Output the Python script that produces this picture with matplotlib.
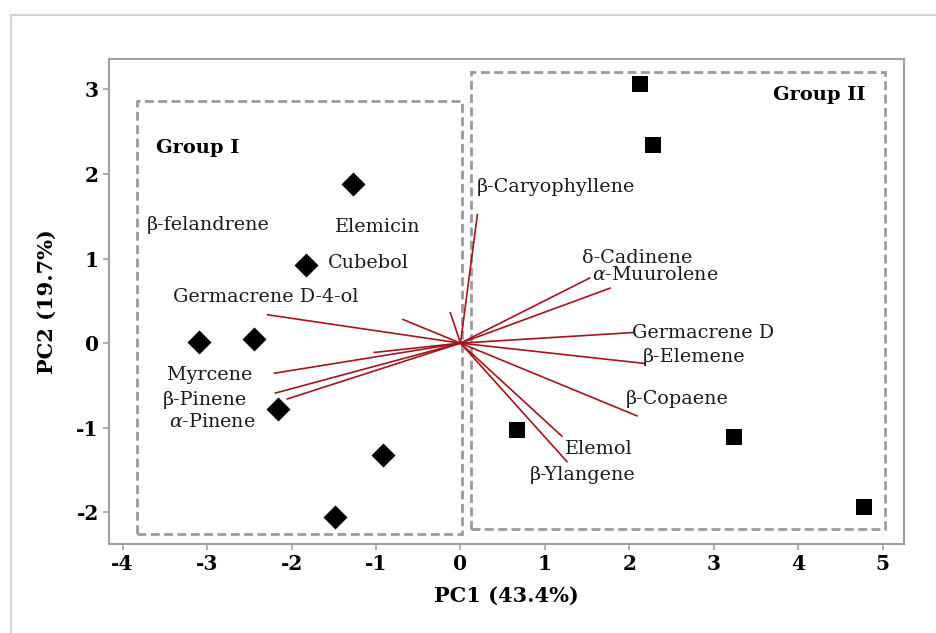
import matplotlib.pyplot as plt
from matplotlib.lines import Line2D
from matplotlib.patches import Rectangle

plt.rcParams["font.family"] = ["DejaVu Serif"]
plt.rcParams["mathtext.fontset"] = "dejavuserif"
plt.rcParams["axes.unicode_minus"] = False

# PCA scores
group1_pc1 = [-1.27, -1.83, -3.09, -2.44, -2.16, -0.92, -1.49]
group1_pc2 = [1.88, 0.92, 0.01, 0.05, -0.78, -1.32, -2.05]
group2_pc1 = [2.12, 2.28, 0.67, 3.24, 4.78]
group2_pc2 = [3.06, 2.34, -1.03, -1.11, -1.94]

# loading vectors (scaled)
compounds = ["β-felandrene", "Elemicin", "Cubebol", "Germacrene D-4-ol",
             "Myrcene", "β-Pinene", r"$\alpha$-Pinene", "β-Caryophyllene",
             "δ-Cadinene", r"$\alpha$-Muurolene", "Germacrene D", "β-Elemene",
             "β-Copaene", "Elemol", "β-Ylangene"]
load_pc1 = [-1.02, -0.68, -0.12, -2.28, -2.20, -2.19, -2.05, 0.20,
            1.53, 1.77, 2.04, 2.18, 2.09, 1.20, 1.26]
load_pc2 = [-0.11, 0.28, 0.36, 0.335, -0.355, -0.59, -0.66, 1.52,
            0.77, 0.65, 0.125, -0.24, -0.86, -1.10, -1.40]

# where each compound name is written
label_pos = [(-2.99, 1.40), (-0.975, 1.37), (-1.09, 0.95), (-2.30, 0.545),
             (-2.97, -0.375), (-3.02, -0.67), (-2.94, -0.93), (1.13, 1.85),
             (2.09, 1.01), (2.30, 0.80), (2.87, 0.12), (2.76, -0.16),
             (2.57, -0.66), (1.64, -1.25), (1.45, -1.56)]

fig = plt.figure(figsize=(9.36, 6.33), dpi=100)
ax = fig.add_axes([0.1165, 0.1406, 0.8493, 0.7662])

for x, y in zip(load_pc1, load_pc2):
    ax.plot([0, x], [0, y], color="#a3141c", lw=1.2, zorder=2)

ax.scatter(group1_pc1, group1_pc2, marker="D", s=150, color="black",
           zorder=3, linewidths=0)
ax.scatter(group2_pc1, group2_pc2, marker="s", s=130, color="black",
           zorder=3, linewidths=0)

for name, (lx, ly) in zip(compounds, label_pos):
    ax.text(lx, ly, name, ha="center", va="center", fontsize=13.8,
            color="#1a1a1a", zorder=4)

# group outlines
box_style = dict(fill=False, ls=(0, (3.2, 1.6)), lw=2.0, ec="#9b9b9b", zorder=1)
ax.add_patch(Rectangle((-3.83, -2.26), 3.85, 5.12, **box_style))
ax.add_patch(Rectangle((0.12, -2.20), 4.91, 5.41, **box_style))
ax.text(-3.11, 2.31, "Group I", ha="center", va="center", fontsize=14,
        fontweight="bold")
ax.text(4.25, 2.93, "Group II", ha="center", va="center", fontsize=14,
        fontweight="bold")

ax.set_xlim(-4.16, 5.25)
ax.set_ylim(-2.375, 3.36)
ax.set_xticks(range(-4, 6))
ax.set_yticks(range(-2, 4))
for s in ax.spines.values():
    s.set_color("#a0a0a0")
    s.set_linewidth(1.5)
ax.tick_params(colors="#a0a0a0", length=4, width=1.2, labelcolor="black",
               labelsize=14.5)
for t in ax.get_xticklabels() + ax.get_yticklabels():
    t.set_fontweight("bold")

ax.set_xlabel("PC1 (43.4%)", fontsize=15, fontweight="bold", labelpad=8)
ax.set_ylabel("PC2 (19.7%)", fontsize=15, fontweight="bold", labelpad=14)

# thin page frame
fig.add_artist(Line2D([11 / 936, 11 / 936], [0, 1 - 15 / 633],
                      color="#d4d4d4", lw=1.5))
fig.add_artist(Line2D([11 / 936, 1], [1 - 15 / 633, 1 - 15 / 633],
                      color="#d4d4d4", lw=1.5))

fig.savefig("out.png", dpi=100)
